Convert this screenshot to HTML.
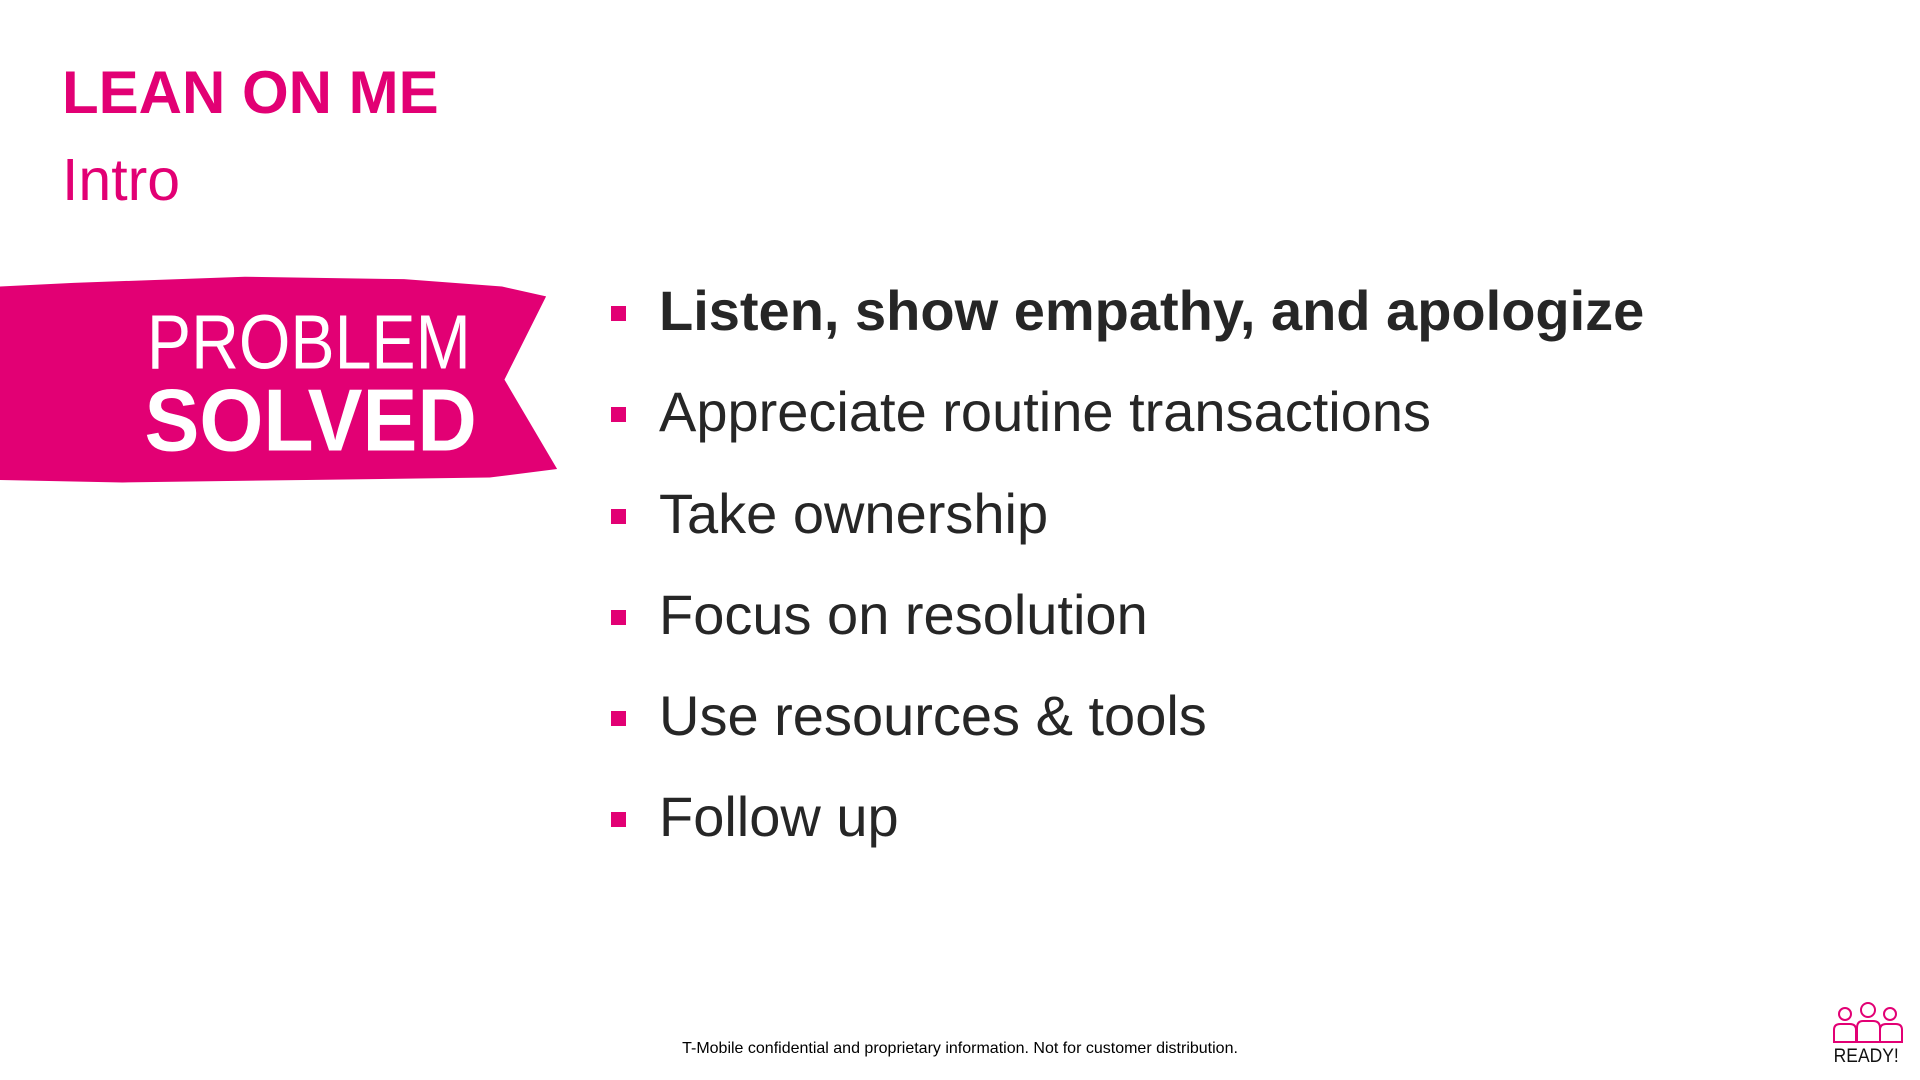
<!DOCTYPE html>
<html><head><meta charset="utf-8">
<style>
html,body{margin:0;padding:0;background:#fff;}
body{width:1920px;height:1080px;position:relative;overflow:hidden;font-family:"Liberation Sans",sans-serif;}
.abs{position:absolute;white-space:nowrap;}
#title{left:62px;top:55px;font-size:60px;font-weight:bold;color:#e20074;line-height:76px;}
#sub{left:62px;top:142px;font-size:59px;color:#e20074;line-height:76px;}
.item{left:659px;font-size:56px;color:#262626;line-height:60px;}
.sq{position:absolute;left:611px;width:15px;height:15px;background:#e20074;}
#foot{left:0;width:1920px;text-align:center;top:1040px;font-size:16px;color:#000;}
</style></head><body>
<div class="abs" id="title">LEAN ON ME</div>
<div class="abs" id="sub">Intro</div>

<svg class="abs" style="left:0;top:0" width="700" height="600" viewBox="0 0 571.7 490">
<path d="M0,234 L60,231 L200,226 L330,228 L410,234 L446,242 L412,310 L455,383 L400,390 L250,392 L100,394 L0,392 Z" fill="#e20074"/>
<text x="0" y="0" font-family="Liberation Sans, sans-serif" font-size="62.9" fill="#fff" transform="translate(120,301) scale(0.86,1)">PROBLEM</text>
<text x="0" y="0" font-family="Liberation Sans, sans-serif" font-size="71.9" font-weight="bold" fill="#fff" transform="translate(118,368) scale(0.935,1)">SOLVED</text>
</svg>

<div class="sq" style="top:306px"></div>
<div class="abs item" style="top:281px;font-weight:bold">Listen, show empathy, and apologize</div>
<div class="sq" style="top:407px"></div>
<div class="abs item" style="top:382px">Appreciate routine transactions</div>
<div class="sq" style="top:509px"></div>
<div class="abs item" style="top:484px">Take ownership</div>
<div class="sq" style="top:610px"></div>
<div class="abs item" style="top:585px">Focus on resolution</div>
<div class="sq" style="top:711px"></div>
<div class="abs item" style="top:686px">Use resources &amp; tools</div>
<div class="sq" style="top:812px"></div>
<div class="abs item" style="top:787px">Follow up</div>

<div class="abs" id="foot">T-Mobile confidential and proprietary information. Not for customer distribution.</div>

<svg class="abs" style="left:1830px;top:1000px" width="80" height="70">
<g fill="none" stroke="#e20074" stroke-width="2">
<circle cx="15" cy="14" r="6"/><circle cx="38" cy="10" r="7"/><circle cx="60" cy="14" r="6"/>
<path d="M4,42 V30 Q4,24 10,24 H20 Q26,24 26,30 V42 Z"/>
<path d="M27,42 V28 Q27,21 33,21 H43 Q50,21 50,28 V42 Z"/>
<path d="M50,42 V30 Q50,24 56,24 H66 Q72,24 72,30 V42 Z"/>
</g>
<text x="4" y="62" font-family="Liberation Sans, sans-serif" font-size="19" fill="#111" transform="scale(0.92,1)">READY!</text>
</svg>
</body></html>
